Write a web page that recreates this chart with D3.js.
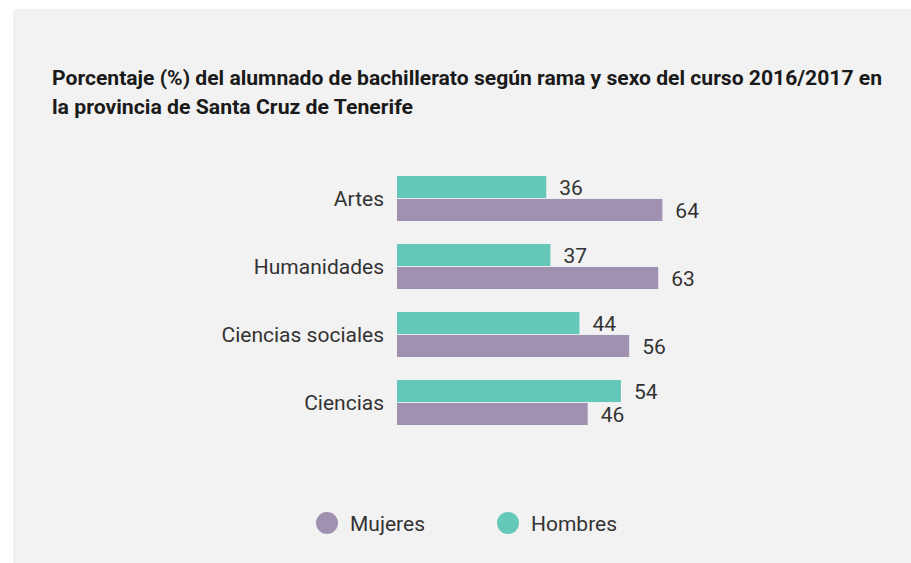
<!DOCTYPE html>
<html><head><meta charset="utf-8">
<script src="https://cdn.jsdelivr.net/npm/d3@7"></script>
<style>html,body{margin:0;padding:0;background:#fff;}svg{display:block;}</style>
</head><body>
<script>
const categories = ["Artes", "Humanidades", "Ciencias sociales", "Ciencias"];
const hombres = [36, 37, 44, 54];
const mujeres = [64, 63, 56, 46];
const seriesNames = ["Mujeres", "Hombres"];
const colors = {Hombres: "#64c8b9", Mujeres: "#a091b1"};
const titleLines = ["Porcentaje (%) del alumnado de bachillerato según rama y sexo del curso 2016/2017 en", "la provincia de Santa Cruz de Tenerife"];

const W = 911, H = 563;
const svg = d3.select("body").append("svg").attr("width", W).attr("height", H);
svg.append("rect").attr("x", 13).attr("y", 9).attr("width", W - 13).attr("height", H - 9).attr("fill", "#f2f2f2");

const font = "Roboto, 'Noto Sans', sans-serif";
const title = svg.append("g");
const tl1 = title.append("text").attr("x", 52).attr("y", 85).text(titleLines[0]);
const tl2 = title.append("text").attr("x", 52).attr("y", 114).text(titleLines[1]);
title.selectAll("text").attr("font-family", font).attr("font-weight", 700).attr("font-size", 19.5).attr("fill", "#1a1a1a");
tl1.attr("textLength", 830).attr("lengthAdjust", "spacingAndGlyphs");
tl2.attr("textLength", 361).attr("lengthAdjust", "spacingAndGlyphs");

const x0 = 397;
const x = d3.scaleLinear().domain([0, 100]).range([x0, x0 + 414.6]);
const y = d3.scaleBand().domain(categories).range([176, 425]).paddingInner(0.338).paddingOuter(0);
const sub = d3.scaleBand().domain(["Hombres", "Mujeres"]).range([0, y.bandwidth()]).paddingInner(0.04);

const data = categories.map((c, i) => ({cat: c, Hombres: hombres[i], Mujeres: mujeres[i]}));
const g = svg.append("g");
const groups = g.selectAll("g.cat").data(data).join("g").attr("class", "cat")
  .attr("transform", d => `translate(0,${y(d.cat)})`);

groups.selectAll("rect").data(d => ["Hombres", "Mujeres"].map(k => ({k, v: d[k]}))).join("rect")
  .attr("x", x(0)).attr("y", d => sub(d.k)).attr("height", sub.bandwidth())
  .attr("width", d => x(d.v) - x(0)).attr("fill", d => colors[d.k]);

groups.selectAll("text.val").data(d => ["Hombres", "Mujeres"].map(k => ({k, v: d[k]}))).join("text")
  .attr("class", "val").attr("x", d => x(d.v) + 13).attr("y", d => sub(d.k) + sub.bandwidth() / 2 + 1)
  .attr("dominant-baseline", "central").attr("font-family", font).attr("font-size", 21).attr("fill", "#333")
  .text(d => d.v);

groups.append("text").attr("x", 384).attr("y", y.bandwidth() / 2 + 0.5).attr("text-anchor", "end")
  .attr("dominant-baseline", "central").attr("font-family", font).attr("font-size", 21).attr("fill", "#333")
  .text(d => d.cat);

const legendX = [327, 508];
const leg = svg.append("g").selectAll("g").data(seriesNames).join("g")
  .attr("transform", (d, i) => `translate(${legendX[i]},523)`);
leg.append("circle").attr("r", 11).attr("fill", d => colors[d]);
leg.append("text").attr("x", 23).attr("y", 1).attr("dominant-baseline", "central")
  .attr("font-family", font).attr("font-size", 21).attr("fill", "#333").text(d => d);
</script>
</body></html>
